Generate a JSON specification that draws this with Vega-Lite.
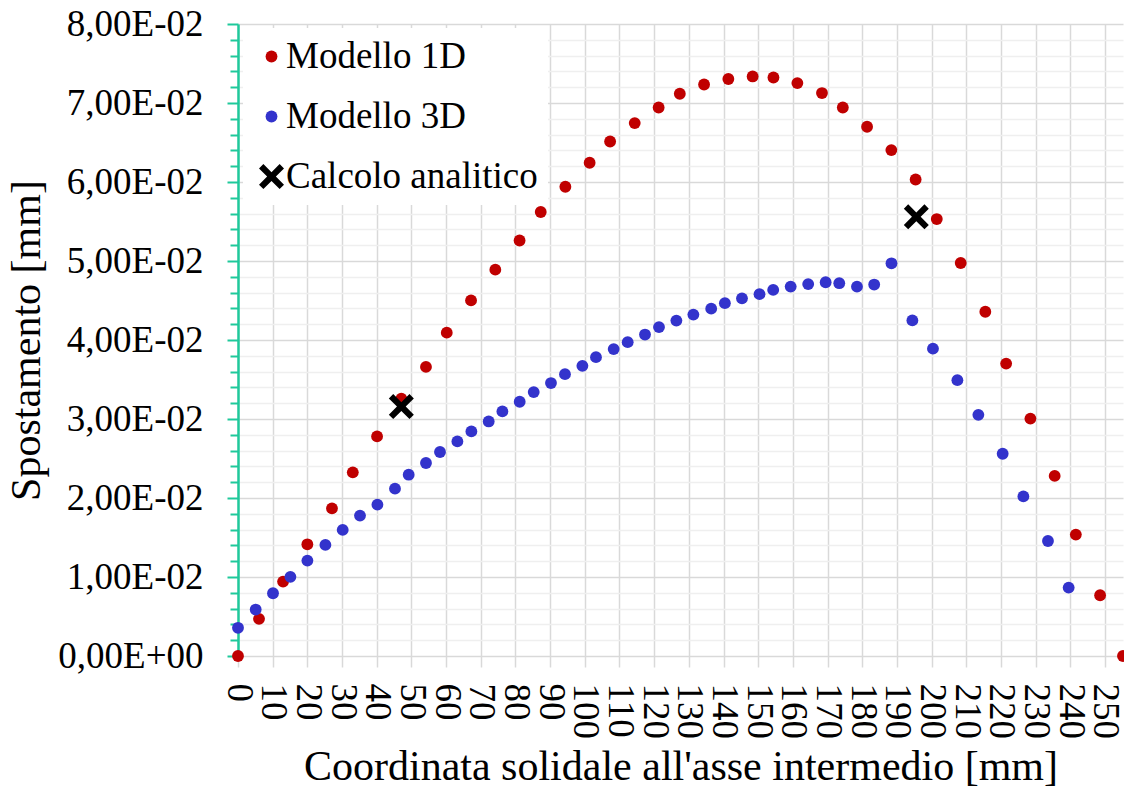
{
  "$schema": "https://vega.github.io/schema/vega-lite/v6.json",
  "width": 885,
  "height": 632,
  "autosize": {"type": "none"},
  "padding": {"left": 238, "top": 24, "right": 1, "bottom": 136},
  "background": "white",
  "config": {
    "view": {"stroke": null},
    "font": "'Liberation Serif', 'DejaVu Serif', serif",
    "legend": {
      "labelFont": "'Liberation Serif', 'DejaVu Serif', serif",
      "labelFontSize": 37,
      "labelColor": "black",
      "labelLimit": 500,
      "rowPadding": 22,
      "labelOffset": -4,
      "padding": 10,
      "fillColor": "white",
      "strokeColor": null
    }
  },
  "data": {
    "values": [
      {"serie": "Modello 1D", "x": 0, "y": 0},
      {"serie": "Modello 1D", "x": 6.06, "y": 0.0047},
      {"serie": "Modello 1D", "x": 13.0, "y": 0.00942},
      {"serie": "Modello 1D", "x": 20.0, "y": 0.01414},
      {"serie": "Modello 1D", "x": 27.1, "y": 0.01869},
      {"serie": "Modello 1D", "x": 33.1, "y": 0.02325},
      {"serie": "Modello 1D", "x": 40.1, "y": 0.0278},
      {"serie": "Modello 1D", "x": 47.1, "y": 0.03258},
      {"serie": "Modello 1D", "x": 54.2, "y": 0.03659},
      {"serie": "Modello 1D", "x": 60.2, "y": 0.04093},
      {"serie": "Modello 1D", "x": 67.2, "y": 0.04501},
      {"serie": "Modello 1D", "x": 74.2, "y": 0.0489},
      {"serie": "Modello 1D", "x": 81.2, "y": 0.0526},
      {"serie": "Modello 1D", "x": 87.3, "y": 0.0562},
      {"serie": "Modello 1D", "x": 94.4, "y": 0.0594},
      {"serie": "Modello 1D", "x": 101.4, "y": 0.06244},
      {"serie": "Modello 1D", "x": 107.3, "y": 0.06513},
      {"serie": "Modello 1D", "x": 114.4, "y": 0.06746},
      {"serie": "Modello 1D", "x": 121.3, "y": 0.06943},
      {"serie": "Modello 1D", "x": 127.4, "y": 0.07117},
      {"serie": "Modello 1D", "x": 134.4, "y": 0.07234},
      {"serie": "Modello 1D", "x": 141.4, "y": 0.07304},
      {"serie": "Modello 1D", "x": 148.4, "y": 0.07336},
      {"serie": "Modello 1D", "x": 154.4, "y": 0.07323},
      {"serie": "Modello 1D", "x": 161.3, "y": 0.07252},
      {"serie": "Modello 1D", "x": 168.4, "y": 0.07126},
      {"serie": "Modello 1D", "x": 174.4, "y": 0.06943},
      {"serie": "Modello 1D", "x": 181.4, "y": 0.06699},
      {"serie": "Modello 1D", "x": 188.4, "y": 0.06404},
      {"serie": "Modello 1D", "x": 195.4, "y": 0.06032},
      {"serie": "Modello 1D", "x": 201.5, "y": 0.05531},
      {"serie": "Modello 1D", "x": 208.4, "y": 0.04975},
      {"serie": "Modello 1D", "x": 215.5, "y": 0.04358},
      {"serie": "Modello 1D", "x": 221.5, "y": 0.03701},
      {"serie": "Modello 1D", "x": 228.5, "y": 0.03005},
      {"serie": "Modello 1D", "x": 235.5, "y": 0.0228},
      {"serie": "Modello 1D", "x": 241.6, "y": 0.01537},
      {"serie": "Modello 1D", "x": 248.6, "y": 0.00769},
      {"serie": "Modello 1D", "x": 255.2, "y": 0},
      {"serie": "Modello 3D", "x": 0, "y": 0.00357},
      {"serie": "Modello 3D", "x": 5.1, "y": 0.00588},
      {"serie": "Modello 3D", "x": 10.09, "y": 0.00794},
      {"serie": "Modello 3D", "x": 15.11, "y": 0.01002},
      {"serie": "Modello 3D", "x": 20.01, "y": 0.01208},
      {"serie": "Modello 3D", "x": 25.2, "y": 0.01406},
      {"serie": "Modello 3D", "x": 30.19, "y": 0.01596},
      {"serie": "Modello 3D", "x": 35.18, "y": 0.01777},
      {"serie": "Modello 3D", "x": 40.2, "y": 0.01916},
      {"serie": "Modello 3D", "x": 45.27, "y": 0.02118},
      {"serie": "Modello 3D", "x": 49.22, "y": 0.02295},
      {"serie": "Modello 3D", "x": 54.21, "y": 0.02443},
      {"serie": "Modello 3D", "x": 58.25, "y": 0.02582},
      {"serie": "Modello 3D", "x": 63.26, "y": 0.02716},
      {"serie": "Modello 3D", "x": 67.3, "y": 0.02843},
      {"serie": "Modello 3D", "x": 72.29, "y": 0.02969},
      {"serie": "Modello 3D", "x": 76.24, "y": 0.03096},
      {"serie": "Modello 3D", "x": 81.23, "y": 0.03218},
      {"serie": "Modello 3D", "x": 85.27, "y": 0.03341},
      {"serie": "Modello 3D", "x": 90.25, "y": 0.03455},
      {"serie": "Modello 3D", "x": 94.29, "y": 0.03568},
      {"serie": "Modello 3D", "x": 99.31, "y": 0.03673},
      {"serie": "Modello 3D", "x": 103.23, "y": 0.03783},
      {"serie": "Modello 3D", "x": 108.33, "y": 0.03885},
      {"serie": "Modello 3D", "x": 112.37, "y": 0.03973},
      {"serie": "Modello 3D", "x": 117.36, "y": 0.04069},
      {"serie": "Modello 3D", "x": 121.4, "y": 0.04163},
      {"serie": "Modello 3D", "x": 126.41, "y": 0.04246},
      {"serie": "Modello 3D", "x": 131.31, "y": 0.04322},
      {"serie": "Modello 3D", "x": 136.45, "y": 0.04397},
      {"serie": "Modello 3D", "x": 140.4, "y": 0.04466},
      {"serie": "Modello 3D", "x": 145.33, "y": 0.04527},
      {"serie": "Modello 3D", "x": 150.38, "y": 0.0458},
      {"serie": "Modello 3D", "x": 154.33, "y": 0.04634},
      {"serie": "Modello 3D", "x": 159.37, "y": 0.04676},
      {"serie": "Modello 3D", "x": 164.42, "y": 0.04708},
      {"serie": "Modello 3D", "x": 169.46, "y": 0.04731},
      {"serie": "Modello 3D", "x": 173.38, "y": 0.04719},
      {"serie": "Modello 3D", "x": 178.49, "y": 0.04675},
      {"serie": "Modello 3D", "x": 183.45, "y": 0.04702},
      {"serie": "Modello 3D", "x": 188.44, "y": 0.04971},
      {"serie": "Modello 3D", "x": 194.46, "y": 0.04248},
      {"serie": "Modello 3D", "x": 200.4, "y": 0.0389},
      {"serie": "Modello 3D", "x": 207.44, "y": 0.03492},
      {"serie": "Modello 3D", "x": 213.49, "y": 0.03053},
      {"serie": "Modello 3D", "x": 220.5, "y": 0.0256},
      {"serie": "Modello 3D", "x": 226.47, "y": 0.0202},
      {"serie": "Modello 3D", "x": 233.56, "y": 0.01456},
      {"serie": "Modello 3D", "x": 239.53, "y": 0.00866},
      {"serie": "Calcolo analitico", "x": 47.1, "y": 0.03158},
      {"serie": "Calcolo analitico", "x": 195.6, "y": 0.0556}
    ]
  },
  "mark": {"type": "point", "filled": true, "opacity": 1, "strokeWidth": 0},
  "encoding": {
    "x": {
      "field": "x",
      "type": "quantitative",
      "scale": {"domain": [0, 255.2], "nice": false, "zero": false},
      "axis": {
        "values": [0, 10, 20, 30, 40, 50, 60, 70, 80, 90, 100, 110, 120, 130, 140, 150, 160, 170, 180, 190, 200, 210, 220, 230, 240, 250],
        "labelAngle": 90,
        "labelFont": "'Liberation Serif', 'DejaVu Serif', serif",
        "labelFontSize": 37,
        "labelColor": "black",
        "labelPadding": 16,
        "labelOverlap": false,
        "labelFlush": false,
        "tickSize": 11,
        "tickColor": "#D9D9D9",
        "tickWidth": 1.5,
        "domain": false,
        "gridColor": "#D9D9D9",
        "gridWidth": 1.5,
        "title": "Coordinata solidale all'asse intermedio [mm]",
        "titleFont": "'Liberation Serif', 'DejaVu Serif', serif",
        "titleFontSize": 42,
        "titleFontWeight": "normal",
        "titleColor": "black",
        "titlePadding": 8
      }
    },
    "y": {
      "field": "y",
      "type": "quantitative",
      "scale": {"domain": [0, 0.08], "nice": false, "zero": true},
      "axis": {
        "values": [0, 0.002, 0.004, 0.006, 0.008, 0.01, 0.012, 0.014, 0.016, 0.018, 0.02, 0.022, 0.024, 0.026, 0.028, 0.03, 0.032, 0.034, 0.036, 0.038, 0.04, 0.042, 0.044, 0.046, 0.048, 0.05, 0.052, 0.054, 0.056, 0.058, 0.06, 0.062, 0.064, 0.066, 0.068, 0.07, 0.072, 0.074, 0.076, 0.078, 0.08],
        "labelExpr": "datum.value < 1e-9 ? '0,00E+00' : (round(datum.value*1000) % 10 === 0 ? replace(format(datum.value*100, '.2f'), '.', ',') + 'E-02' : '')",
        "labelFont": "'Liberation Serif', 'DejaVu Serif', serif",
        "labelFontSize": 37,
        "labelColor": "black",
        "labelPadding": 24,
        "labelOverlap": false,
        "labelFlush": false,
        "domainColor": "#1FC99B",
        "domainWidth": 2.5,
        "tickColor": "#1FC99B",
        "tickWidth": 2,
        "tickSize": {"condition": {"test": "round(datum.value*1000) % 10 === 0", "value": 11}, "value": 8},
        "gridColor": {"condition": {"test": "round(datum.value*1000) % 10 === 0", "value": "#D9D9D9"}, "value": "#EFEFEF"},
        "gridWidth": 1.5,
        "title": "Spostamento [mm]",
        "titleFont": "'Liberation Serif', 'DejaVu Serif', serif",
        "titleFontSize": 42,
        "titleFontWeight": "normal",
        "titleColor": "black",
        "titlePadding": 9
      }
    },
    "color": {
      "field": "serie",
      "type": "nominal",
      "scale": {"domain": ["Modello 1D", "Modello 3D", "Calcolo analitico"], "range": ["#C00000", "#3333CC", "#000000"]},
      "legend": {"title": null, "orient": "none", "legendX": 5, "legendY": 4}
    },
    "shape": {
      "field": "serie",
      "type": "nominal",
      "scale": {"domain": ["Modello 1D", "Modello 3D", "Calcolo analitico"], "range": ["circle", "circle", "M-1,-0.65L-0.65,-1L0,-0.35L0.65,-1L1,-0.65L0.35,0L1,0.65L0.65,1L0,0.35L-0.65,1L-1,0.65L-0.35,0Z"]},
      "legend": {"title": null, "orient": "none", "legendX": 5, "legendY": 4}
    },
    "size": {
      "field": "serie",
      "type": "nominal",
      "scale": {"type": "ordinal", "domain": ["Modello 1D", "Modello 3D", "Calcolo analitico"], "range": [140, 140, 625]},
      "legend": {"title": null, "orient": "none", "legendX": 5, "legendY": 4}
    }
  }
}
